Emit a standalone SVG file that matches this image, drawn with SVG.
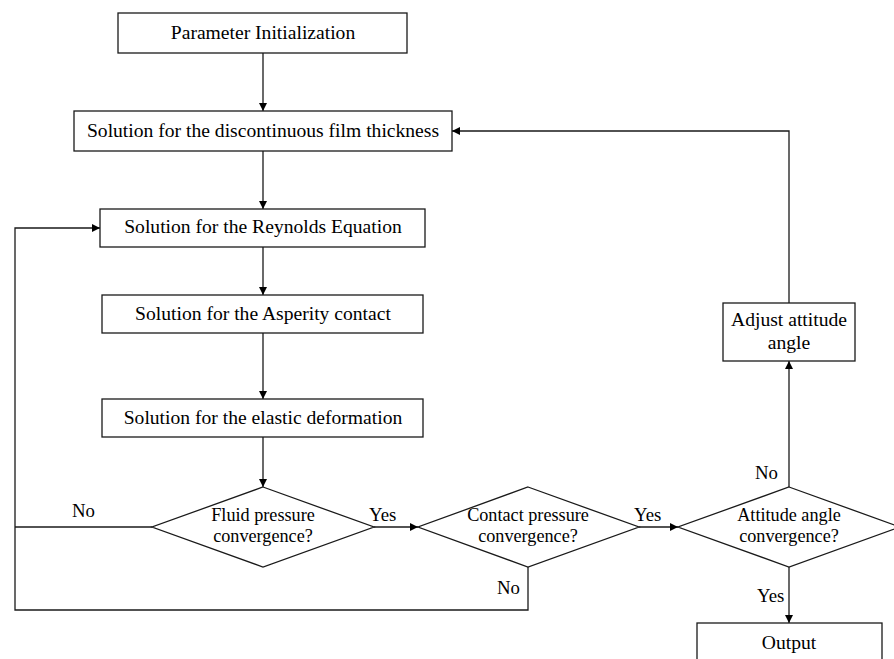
<svg xmlns="http://www.w3.org/2000/svg" width="894" height="659" viewBox="0 0 894 659">
<style>
.b{fill:#fff;stroke:#1a1a1a;stroke-width:1.3}
.l{fill:none;stroke:#1a1a1a;stroke-width:1.3}
text{font-family:"Liberation Serif","Times New Roman",serif;fill:#000;font-size:19.6px}
.c{text-anchor:middle}
.d{font-size:18.2px}
.k{font-size:18.8px}
</style>
<defs>
<marker id="ah" viewBox="0 0 10 10" refX="10" refY="5" markerWidth="9" markerHeight="8" markerUnits="userSpaceOnUse" orient="auto">
<path d="M0,0 L10,5 L0,10 z" fill="#000"/>
</marker>
</defs>
<rect width="894" height="659" fill="#fff"/>
<g id="connectors">
<path class="l" d="M263,53 V111" marker-end="url(#ah)"/>
<path class="l" d="M263,151 V209" marker-end="url(#ah)"/>
<path class="l" d="M263,247 V295" marker-end="url(#ah)"/>
<path class="l" d="M263,333 V399" marker-end="url(#ah)"/>
<path class="l" d="M263,437 V487" marker-end="url(#ah)"/>
<path class="l" d="M374,527 H418" marker-end="url(#ah)"/>
<path class="l" d="M639,527 H678" marker-end="url(#ah)"/>
<path class="l" d="M152,527 H15"/>
<path class="l" d="M528,567 V610 H15 V228 H100" marker-end="url(#ah)"/>
<path class="l" d="M789,487 V361" marker-end="url(#ah)"/>
<path class="l" d="M789,303 V131 H452" marker-end="url(#ah)"/>
<path class="l" d="M789,567 V623" marker-end="url(#ah)"/>
<text class="k" x="72" y="517">No</text>
<text class="k" x="369" y="521">Yes</text>
<text class="k" x="634" y="521">Yes</text>
<text class="k" x="497" y="594">No</text>
<text class="k" x="755" y="479">No</text>
<text class="k" x="757" y="602">Yes</text>
</g>
<g id="n1"><rect class="b" x="118" y="13" width="289" height="40"/><text class="c" x="263" y="39">Parameter Initialization</text></g>
<g id="n2"><rect class="b" x="74" y="111" width="378" height="40"/><text class="c" x="263" y="137">Solution for the discontinuous film thickness</text></g>
<g id="n3"><rect class="b" x="100" y="209" width="325" height="38"/><text class="c" x="263" y="233">Solution for the Reynolds Equation</text></g>
<g id="n4"><rect class="b" x="102" y="295" width="321" height="38"/><text class="c" x="263" y="320">Solution for the Asperity contact</text></g>
<g id="n5"><rect class="b" x="102" y="399" width="321" height="38"/><text class="c" x="263" y="424">Solution for the elastic deformation</text></g>
<g id="d1"><path class="b" d="M263,487 L374,527 L263,567 L152,527 Z"/><text class="c d" x="263" y="521">Fluid pressure</text><text class="c d" x="263" y="542">convergence?</text></g>
<g id="d2"><path class="b" d="M528,487 L639,527 L528,567 L418,527 Z"/><text class="c d" x="528" y="521">Contact pressure</text><text class="c d" x="528" y="542">convergence?</text></g>
<g id="d3"><path class="b" d="M789,487 L900,527 L789,567 L678,527 Z"/><text class="c d" x="789" y="521">Attitude angle</text><text class="c d" x="789" y="542">convergence?</text></g>
<g id="n6"><rect class="b" x="723" y="303" width="132" height="58"/><text class="c" x="789" y="326">Adjust attitude</text><text class="c" x="789" y="349">angle</text></g>
<g id="n7"><rect class="b" x="697" y="623" width="185" height="50"/><text class="c" x="789" y="649">Output</text></g>
</svg>
